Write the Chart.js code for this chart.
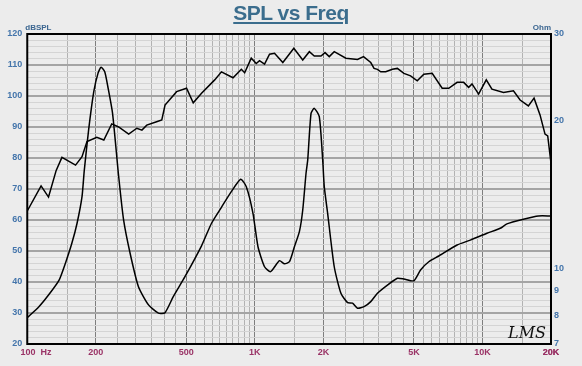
<!DOCTYPE html>
<html>
<head>
<meta charset="utf-8">
<script src="https://cdn.jsdelivr.net/npm/chart.js@4.4.1/dist/chart.umd.min.js"></script>
<style>
    html, body { margin: 0; padding: 0; background: #ececec; }
    #wrap { position: relative; width: 582px; height: 366px; background: #ececec; }
    #chart { position: absolute; left: 0; top: 0; }
    #title {
        position: absolute; left: 0; top: 1px; width: 582px; text-align: center;
        font: bold 21px "Liberation Sans", Arial, sans-serif; color: #3b6d8d;
        text-decoration: underline; text-decoration-thickness: 2px; text-underline-offset: 2px;
        letter-spacing: -0.5px;
    }
</style>
</head>
<body>
<div id="wrap">
    <canvas id="chart" width="582" height="366"></canvas>
    <div id="title">SPL vs Freq</div>
</div>
<script>
// SPL curve (left axis, dB)
const splFreq = [100, 115, 124, 134, 142, 163, 174, 183, 202, 217, 235, 252, 279, 303, 319, 335, 370, 390, 403, 453,
    501, 536, 583, 666, 713, 802, 872, 902, 964, 1014, 1048, 1103, 1160, 1220, 1327, 1483, 1623, 1735, 1824, 1952,
    2033, 2122, 2232, 2511, 2825, 3001, 3229, 3339, 3455, 3573, 3757, 4019, 4227, 4516, 4832, 5169, 5525, 6012, 6651, 7107,
    7736, 8267, 8694, 8997, 9615, 10390, 11004, 12372, 13679, 14634, 15909, 16851, 17899, 18828, 19346, 20000]
const splDb = [62.9, 71, 67.4, 76, 80.2, 77.7, 80.4, 85.3, 86.7, 85.8, 91, 90, 87.7, 89.6, 89, 90.6, 91.7, 92.3, 97.1, 101.4,
    102.5, 97.8, 100.9, 105.2, 107.8, 105.9, 108.6, 107.5, 112.2, 110.5, 111.4, 110.3, 113.5, 113.8, 110.8, 115.4, 111.6, 114.3, 112.9, 112.9,
    114, 112.7, 114.3, 112.2, 111.8, 112.7, 110.8, 108.9, 108.6, 107.8, 107.8, 108.6, 108.9, 107.3, 106.5, 104.9, 107, 107.3, 102.5, 102.5,
    104.4, 104.4, 102.8, 103.9, 100.6, 105.2, 102.2, 101.1, 101.7, 98.7, 96.8, 99.3, 93.9, 87.7, 87.1, 78.3]

// impedance curve (right axis, Ohm)
const impFreq = [100, 112.5, 124, 138, 147, 157, 165.5, 174, 178, 186, 196, 204.5, 211, 219, 226, 237, 252, 265, 283, 308,
    341, 377, 403, 438, 493, 583, 645, 713, 788, 866, 917, 981, 1032, 1103, 1172, 1283, 1349, 1419, 1492, 1569,
    1623, 1678, 1707, 1765, 1824, 1919, 1986, 2018, 2088, 2232, 2388, 2555, 2686, 2825, 3019, 3229, 3455, 3823, 4227, 4516,
    4995, 5345, 5810, 6428, 7736, 8845, 10464, 11967, 12804, 15126, 17596, 20000]
const impOhm = [7.92, 8.34, 8.81, 9.45, 10.22, 11.23, 12.34, 13.98, 15.8, 19.11, 22.88, 24.94, 25.66, 25.14, 23.42, 20.67, 15.4, 12.53, 10.72, 9.16,
    8.41, 8.09, 8.11, 8.74, 9.6, 11.1, 12.34, 13.3, 14.31, 15.17, 14.65, 12.93, 11.05, 10.06, 9.83, 10.35, 10.2, 10.3, 11.05, 11.86,
    13.13, 15.6, 16.61, 20.67, 21.16, 20.35, 16.61, 14.65, 12.93, 10.06, 8.88, 8.5, 8.48, 8.28, 8.34, 8.54, 8.88, 9.23, 9.53, 9.5,
    9.42, 9.91, 10.3, 10.58, 11.14, 11.4, 11.77, 12.05, 12.3, 12.57, 12.77, 12.77]

// tick labels
const xLabelValues = [100, 200, 500, 1000, 2000, 5000, 10000, 20000]
const xLabelText = ['       100  Hz', '200', '500', '1K', '2K', '5K', '10K', '20K']
const ohmTicks = [7, 8, 9, 10, 20, 30]

// grid lines: 100,150,...1000,1500,...20000
const xGrid = []
for (const dec of [100, 1000, 10000])
    for (let m = 1; m < 10; m += 0.5) if (dec * m <= 20000) xGrid.push(dec * m)
xGrid.push(20000)
const dbGrid = []
for (let v = 20; v <= 120; v += 2) dbGrid.push(v)

const tickFont = { family: '"Liberation Sans", Arial, sans-serif', size: 9, weight: 'bold' }

const frame = {
    id: 'frame',
    afterDraw(chart){
        const {ctx, chartArea: a} = chart
        ctx.save()
        ctx.strokeStyle = '#000'
        ctx.lineWidth = 2
        ctx.strokeRect(a.left, a.top, a.right - a.left, a.bottom - a.top)
        ctx.fillStyle = '#3a6590'
        ctx.font = 'bold 8px "Liberation Sans", Arial, sans-serif'
        ctx.textBaseline = 'alphabetic'
        ctx.textAlign = 'left'
        ctx.fillText('dBSPL', a.left - 2, a.top - 4)
        ctx.textAlign = 'right'
        ctx.fillText('Ohm', a.right, a.top - 4)
        ctx.fillStyle = '#111'
        ctx.font = 'italic 16px "DejaVu Serif", serif'
        ctx.textAlign = 'right'
        ctx.fillText('LMS', a.right - 5, a.bottom - 6)
        ctx.restore()
    }
}

new Chart(document.getElementById('chart'), {
    type: 'line',
    data: {
        datasets: [
            {
                label: 'SPL',
                data: splFreq.map((f, i) => ({x: f, y: splDb[i]})),
                yAxisID: 'y',
                borderColor: '#000',
                borderWidth: 1.5,
                pointRadius: 0,
                tension: 0
            },
            {
                label: 'Impedance',
                data: impFreq.map((f, i) => ({x: f, y: impOhm[i]})),
                yAxisID: 'y2',
                borderColor: '#000',
                borderWidth: 1.5,
                pointRadius: 0,
                tension: 0.2
            }
        ]
    },
    options: {
        responsive: false,
        animation: false,
        layout: { padding: { top: 34, left: 0, right: 0, bottom: 0 } },
        plugins: { legend: { display: false }, tooltip: { enabled: false }, title: { display: false } },
        scales: {
            x: {
                type: 'logarithmic',
                min: 100,
                max: 20000,
                afterBuildTicks: scale => { scale.ticks = xGrid.map(v => ({value: v})) },
                afterFit: scale => { scale.height = 22 },
                ticks: {
                    autoSkip: false,
                    maxRotation: 0,
                    padding: 3,
                    color: '#9a3366',
                    font: tickFont,
                    callback: v => {
                        const i = xLabelValues.indexOf(v)
                        return i >= 0 ? xLabelText[i] : ''
                    }
                },
                grid: {
                    drawTicks: false,
                    color: c => c.tick && xLabelValues.includes(c.tick.value) ? '#7e7e7e' : '#b2b2b2',
                    lineWidth: 1
                },
                border: { display: false }
            },
            y: {
                type: 'linear',
                position: 'left',
                min: 20,
                max: 120,
                afterBuildTicks: scale => { scale.ticks = dbGrid.map(v => ({value: v})) },
                afterFit: scale => { scale.width = 25 },
                ticks: {
                    autoSkip: false,
                    padding: 5,
                    color: '#4475ab',
                    font: tickFont,
                    callback: v => v % 10 === 0 ? String(v) : ''
                },
                grid: {
                    drawTicks: false,
                    color: c => c.tick && c.tick.value % 10 === 0 ? '#a4a4a4' : '#d4d4d4',
                    lineWidth: c => c.tick && c.tick.value % 10 === 0 ? 2 : 1
                },
                border: { display: false }
            },
            y2: {
                type: 'logarithmic',
                position: 'right',
                min: 7,
                max: 30,
                afterBuildTicks: scale => { scale.ticks = ohmTicks.map(v => ({value: v})) },
                afterFit: scale => { scale.width = 31 },
                ticks: {
                    autoSkip: false,
                    padding: 3,
                    color: '#4475ab',
                    font: tickFont,
                    callback: v => String(v)
                },
                grid: { drawOnChartArea: false, drawTicks: false },
                border: { display: false }
            }
        }
    },
    plugins: [frame]
})
</script>
</body>
</html>
